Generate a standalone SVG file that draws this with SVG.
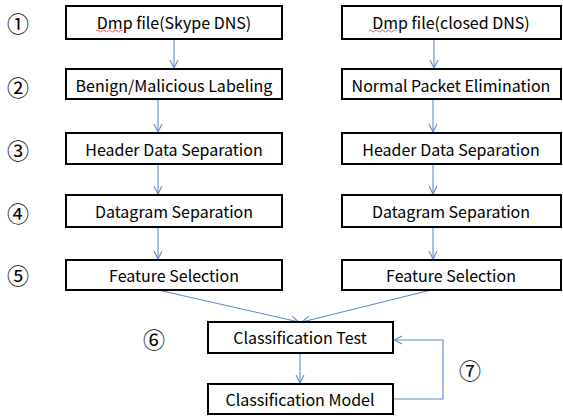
<svg xmlns="http://www.w3.org/2000/svg" width="563" height="416" viewBox="0 0 563 416">
<style>
.box{fill:#fff;stroke:#000;stroke-width:2}
.t{font-family:"Noto Sans CJK KR","Malgun Gothic","Liberation Sans",sans-serif;font-size:16px;fill:#000;text-anchor:middle;dominant-baseline:central}
.n{font-family:"Noto Sans CJK KR","Liberation Sans",sans-serif;font-size:22px;fill:#000;text-anchor:middle;dominant-baseline:central}
.c{fill:none;stroke:#5b8ccc;stroke-width:1.1}
.sq{fill:none;stroke:#e03030;stroke-width:0.8}
</style>
<defs>
<marker id="ah" markerWidth="10" markerHeight="10" refX="9" refY="5" orient="auto" markerUnits="userSpaceOnUse">
<path d="M1,1 L9,5 L1,9" fill="none" stroke="#5b8ccc" stroke-width="1.1"/>
</marker>
</defs>
<g id="connectors">
<line class="c" x1="174" y1="39" x2="174" y2="68" marker-end="url(#ah)"/>
<line class="c" x1="158" y1="99" x2="158" y2="132" marker-end="url(#ah)"/>
<line class="c" x1="158" y1="164" x2="158" y2="194" marker-end="url(#ah)"/>
<line class="c" x1="158" y1="227" x2="158" y2="259" marker-end="url(#ah)"/>
<line class="c" x1="434" y1="39" x2="434" y2="68" marker-end="url(#ah)"/>
<line class="c" x1="433" y1="99" x2="433" y2="132" marker-end="url(#ah)"/>
<line class="c" x1="433" y1="164" x2="433" y2="194" marker-end="url(#ah)"/>
<line class="c" x1="433" y1="227" x2="433" y2="259" marker-end="url(#ah)"/>
<line class="c" x1="158" y1="290" x2="299" y2="322" marker-end="url(#ah)"/>
<line class="c" x1="431" y1="290" x2="302" y2="322" marker-end="url(#ah)"/>
<line class="c" x1="300" y1="353" x2="300" y2="383" marker-end="url(#ah)"/>
<polyline class="c" points="393,399 443,399 443,340 394,340" marker-end="url(#ah)"/>
</g>
<g id="n1"><rect class="box" x="66" y="6" width="216" height="33"/><text class="t" x="174" y="22">Dmp file(Skype DNS)</text><path class="sq" d="M96,31 q1.5,-2 3,0 t3,0 t3,0 t3,0 t3,0 t3,0 t3,0 t3,0 t3,0"/></g>
<g id="n2"><rect class="box" x="66" y="69" width="216" height="30"/><text class="t" x="174" y="85">Benign/Malicious Labeling</text></g>
<g id="n3"><rect class="box" x="66" y="133" width="216" height="31"/><text class="t" x="174" y="149">Header Data Separation</text></g>
<g id="n4"><rect class="box" x="66" y="195" width="216" height="32"/><text class="t" x="174" y="211">Datagram Separation</text></g>
<g id="n5"><rect class="box" x="66" y="260" width="216" height="30"/><text class="t" x="174" y="275">Feature Selection</text></g>
<g id="m1"><rect class="box" x="342" y="6" width="219" height="33"/><text class="t" x="451" y="22">Dmp file(closed DNS)</text><path class="sq" d="M369,31 q1.5,-2 3,0 t3,0 t3,0 t3,0 t3,0 t3,0 t3,0 t3,0 t3,0"/></g>
<g id="m2"><rect class="box" x="342" y="69" width="219" height="30"/><text class="t" x="451" y="85">Normal Packet Elimination</text></g>
<g id="m3"><rect class="box" x="342" y="133" width="219" height="31"/><text class="t" x="451" y="149">Header Data Separation</text></g>
<g id="m4"><rect class="box" x="342" y="195" width="219" height="32"/><text class="t" x="451" y="211">Datagram Separation</text></g>
<g id="m5"><rect class="box" x="342" y="260" width="219" height="30"/><text class="t" x="451" y="275">Feature Selection</text></g>
<g id="test"><rect class="box" x="208" y="322" width="185" height="31"/><text class="t" x="300" y="337">Classification Test</text></g>
<g id="model"><rect class="box" x="208" y="384" width="185" height="30"/><text class="t" x="300" y="399">Classification Model</text></g>
<g id="labels">
<text class="n" x="18" y="22">①</text>
<text class="n" x="18" y="86">②</text>
<text class="n" x="18" y="149">③</text>
<text class="n" x="18" y="212">④</text>
<text class="n" x="18" y="274">⑤</text>
<text class="n" x="154" y="338">⑥</text>
<text class="n" x="470" y="369">⑦</text>
</g>
</svg>
